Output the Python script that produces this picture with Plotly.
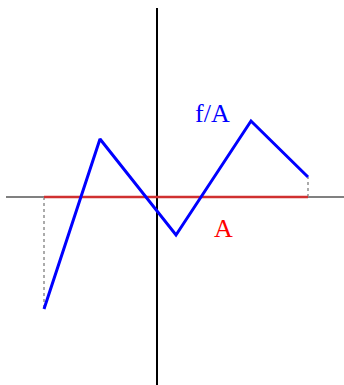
import plotly.graph_objects as go

# f/A polyline (x right, y up, origin at axes intersection)
f_x = [-113, -57, 19, 94, 151]
f_y = [-112, 58, -38, 76, 20]
# A baseline
a_x = [-113, 151]
a_y = [0, 0]
# axis extents
h_axis_x = [-151, 187]
v_axis_y = [-190, 189]
labels = ["f/A", "A"]
label_x = [55, 66]
label_y = [84, -31]

fig = go.Figure()
fig.add_trace(go.Scatter(x=h_axis_x, y=[0, 0], mode="lines",
                         line=dict(color="#808080", width=2), hoverinfo="skip"))
fig.add_trace(go.Scatter(x=[0, 0], y=v_axis_y, mode="lines",
                         line=dict(color="black", width=2), hoverinfo="skip"))
fig.add_trace(go.Scatter(x=[f_x[0], f_x[0]], y=[a_y[0], f_y[0]], mode="lines",
                         line=dict(color="#909090", width=1.5, dash="dot"), hoverinfo="skip"))
fig.add_trace(go.Scatter(x=[f_x[-1], f_x[-1]], y=[a_y[1], f_y[-1]], mode="lines",
                         line=dict(color="#909090", width=1.5, dash="dot"), hoverinfo="skip"))
fig.add_trace(go.Scatter(x=a_x, y=a_y, mode="lines",
                         line=dict(color="#d03030", width=2.5), hoverinfo="skip"))
fig.add_trace(go.Scatter(x=f_x, y=f_y, mode="lines",
                         line=dict(color="#0000ff", width=3), hoverinfo="skip"))

fig.add_annotation(x=label_x[0], y=label_y[0], text=labels[0], showarrow=False,
                   font=dict(family="Liberation Serif", size=26, color="#0000ff"))
fig.add_annotation(x=label_x[1], y=label_y[1], text=labels[1], showarrow=False,
                   font=dict(family="Liberation Serif", size=26, color="#ff0000"))

fig.update_layout(
    width=344, height=385,
    margin=dict(l=0, r=0, t=0, b=0),
    paper_bgcolor="white", plot_bgcolor="white",
    showlegend=False,
    xaxis=dict(range=[-157, 187], visible=False, fixedrange=True),
    yaxis=dict(range=[-188, 197], visible=False, fixedrange=True),
)
fig.write_html("out.html", config={"displayModeBar": False},
               post_script="document.body.style.margin='0';document.body.style.overflow='hidden';")
